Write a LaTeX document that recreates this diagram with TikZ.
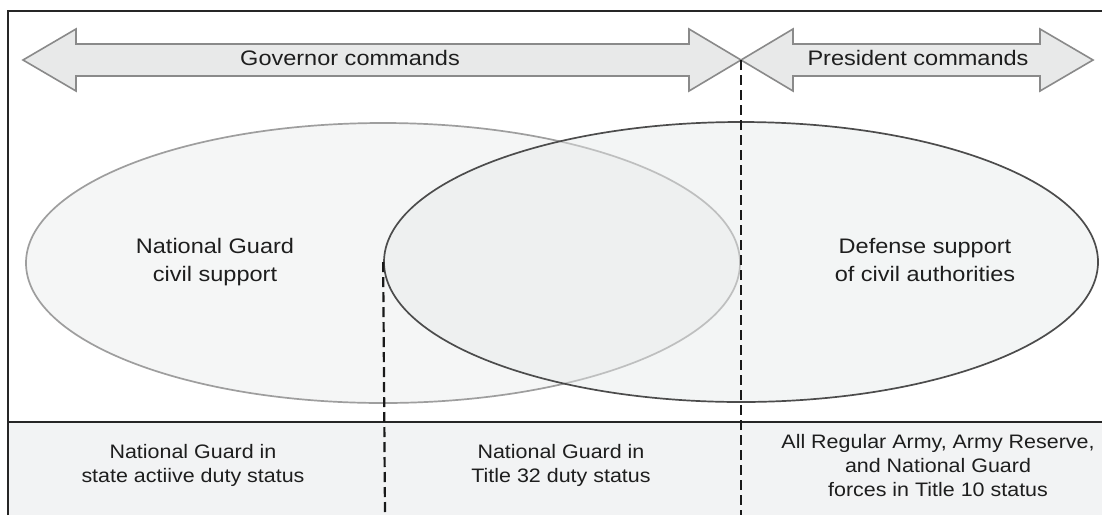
\documentclass[tikz,border=0pt]{standalone}
\usepackage{fontspec}
\setmainfont{Liberation Sans}
\usepackage{graphicx}
\usetikzlibrary{shapes.geometric}
\definecolor{arrowfill}{HTML}{E8E9E9}
\definecolor{arrowline}{HTML}{8A8A8A}
\definecolor{lightfill}{HTML}{F5F6F6}
\definecolor{rightfill}{HTML}{E6E9E9}
\definecolor{bandfill}{HTML}{F2F3F4}
\definecolor{txt}{HTML}{1E1E1E}
\newcommand{\bigtxt}[1]{\scalebox{1.12}[1]{\fontsize{21}{28}\selectfont\begin{tabular}{@{}c@{}}#1\end{tabular}}}
\newcommand{\smalltxt}[1]{\scalebox{1.1}[1]{\fontsize{19.5}{24}\selectfont\begin{tabular}{@{}c@{}}#1\end{tabular}}}
\begin{document}
\begin{tikzpicture}[x=1pt,y=-1pt,
  frameline/.style={line width=2.6pt, draw=black!85},
  bigarrow/.style={draw=arrowline, fill=arrowfill, line width=1.6pt, line join=miter},
  dashline/.style={line width=2.2pt, draw=black!90, dash pattern=on 10pt off 5pt},
  oval/.style={ellipse, minimum width=714pt, minimum height=280pt, line width=1.7pt, inner sep=0pt},
  label/.style={text=txt, inner sep=0pt}]
\useasboundingbox (0,0) rectangle (1102,515);
\fill[white] (0,0) rectangle (1102,515);
% bottom band
\fill[bandfill] (8,422) rectangle (1102,515);
% ellipses
\node[oval, draw=black!38, fill=lightfill] (ngcs) at (383,263) {};
\node[oval, draw=black!70, fill=rightfill, fill opacity=0.45] (dsca) at (741,262) {};
% arrows
\coordinate (junction) at (741,60);
\draw[bigarrow] (23,60) -- (76,29) -- (76,44) -- (689,44) -- (689,29) -- (junction) -- (689,91) -- (689,76) -- (76,76) -- (76,91) -- cycle;
\draw[bigarrow] (junction) -- (793,29) -- (793,44) -- (1040,44) -- (1040,29) -- (1093,60) -- (1040,91) -- (1040,76) -- (793,76) -- (793,91) -- cycle;
\node[label] (gov) at (350,60) {\bigtxt{Governor commands}};
\node[label] (pres) at (918,60) {\bigtxt{President commands}};
% ellipse texts
\node[label] (ngtext) at (215,262) {\bigtxt{National Guard\\civil support}};
\node[label] (dstext) at (925,262) {\bigtxt{Defense support\\of civil authorities}};
% frame
\draw[frameline] (8,515) -- (8,11) -- (1102,11);
\draw[frameline] (8,422) -- (1102,422);
% dashed dividers
\coordinate (bot1) at (385,515);
\coordinate (bot2) at (741,515);
\draw[dashline] (dsca.west) -- (bot1);
\draw[dashline] (junction) -- (bot2);
% bottom texts
\node[label] (state) at (193,466) {\smalltxt{National Guard in\\state actiive duty status}};
\node[label] (t32) at (561,466) {\smalltxt{National Guard in\\Title 32 duty status}};
\node[label] (t10) at (938,468) {\smalltxt{All Regular Army, Army Reserve,\\and National Guard\\forces in Title 10 status}};
\end{tikzpicture}
\end{document}
